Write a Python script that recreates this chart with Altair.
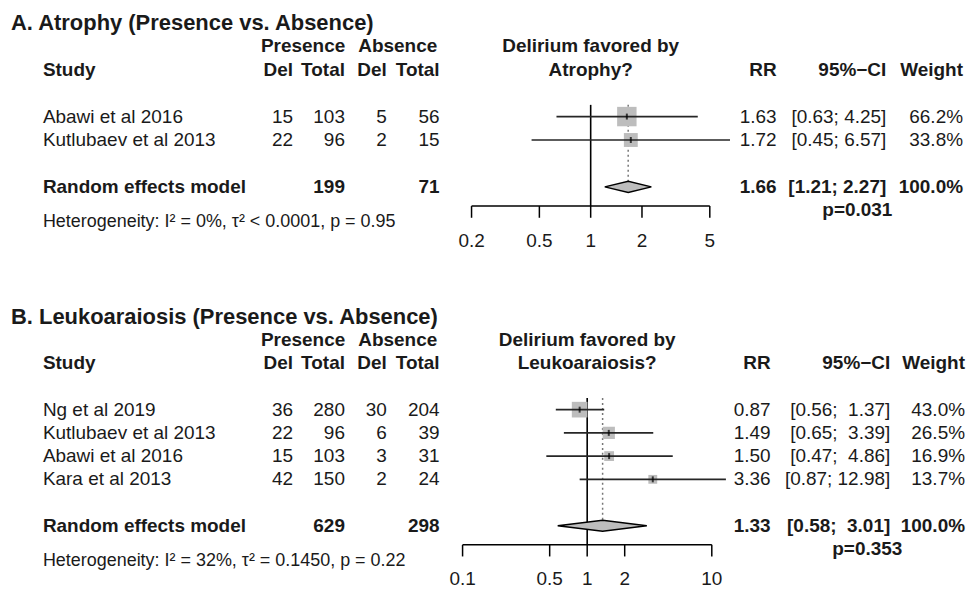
import altair as alt
import pandas as pd

FONT = "Liberation Sans"
TXT = "#1a1a1a"
GREY = "#bdbdbd"

# ---------------- Panel A: Atrophy ----------------
a_title = "A. Atrophy (Presence vs. Absence)"
a_favored = "Atrophy?"
a_study = ["Abawi et al 2016", "Kutlubaev et al 2013"]
a_del_pres = [15, 22]
a_tot_pres = [103, 96]
a_del_abs = [5, 2]
a_tot_abs = [56, 15]
a_rr = [1.63, 1.72]
a_lo = [0.63, 0.45]
a_hi = [4.25, 6.57]
a_weight = [66.2, 33.8]
a_re = [1.66, 1.21, 2.27]          # pooled RR, lower, upper
a_re_tot = [199, 71]               # presence total, absence total
a_p = "p=0.031"
a_het = "Heterogeneity: I² = 0%, τ² < 0.0001, p = 0.95"
a_ticks = [0.2, 0.5, 1, 2, 5]
a_tick_labels = ["0.2", "0.5", "1", "2", "5"]

# ---------------- Panel B: Leukoaraiosis ----------------
b_title = "B. Leukoaraiosis (Presence vs. Absence)"
b_favored = "Leukoaraiosis?"
b_study = ["Ng et al 2019", "Kutlubaev et al 2013", "Abawi et al 2016", "Kara et al 2013"]
b_del_pres = [36, 22, 15, 42]
b_tot_pres = [280, 96, 103, 150]
b_del_abs = [30, 6, 3, 2]
b_tot_abs = [204, 39, 31, 24]
b_rr = [0.87, 1.49, 1.50, 3.36]
b_lo = [0.56, 0.65, 0.47, 0.87]
b_hi = [1.37, 3.39, 4.86, 12.98]
b_weight = [43.0, 26.5, 16.9, 13.7]
b_re = [1.33, 0.58, 3.01]
b_re_tot = [629, 298]
b_p = "p=0.353"
b_het = "Heterogeneity: I² = 32%, τ² = 0.1450, p = 0.22"
b_ticks = [0.1, 0.5, 1, 2, 10]
b_tick_labels = ["0.1", "0.5", "1", "2", "10"]

null_value = 1.0

NBSP = "\u00a0"


def fmt_ci(lo, hi):
    los = [f"{v:.2f}" for v in lo]
    his = [f"{v:.2f}" for v in hi]
    wl = max(len(s) for s in los)
    wh = max(len(s) for s in his)
    out = []
    for l, h in zip(los, his):
        l2 = NBSP * (wl - len(l)) + l
        h2 = NBSP * (wh - len(h)) + h
        out.append(f"[{l2}; {h2}]")
    return out


def panel(P, L):
    k = len(P["study"])
    rows = list(range(1, k + 1))
    re_row = k + 2
    axis_row = k + 2.82
    ys = alt.Scale(domain=[0, 1], range=[L["row1"] - L["rh"], L["row1"]], zero=False, nice=False)
    xs = alt.Scale(type="log", domain=[P["ticks"][0], P["ticks"][-1]], range=L["xr"], nice=False)

    def Y(f):
        return alt.Y(f, scale=ys, axis=None)

    def X(f):
        return alt.X(f, scale=xs, axis=None)

    def text(rws, texts, x, align, bold=False, size=19):
        df = pd.DataFrame({"row": rws, "t": texts})
        return alt.Chart(df).mark_text(
            align=align, baseline="middle", font=FONT, fontSize=size,
            fontWeight="bold" if bold else "normal", color=TXT,
        ).encode(x=alt.value(x), y=Y("row:Q"), text="t:N")

    layers = []
    # titles and headers
    layers.append(text([-3], [P["title"]], L["title_x"], "left", True, 22))
    layers.append(text([-2], ["Presence"], L["pres_c"], "center", True))
    layers.append(text([-2], ["Absence"], L["abs_c"], "center", True))
    layers.append(text([-1], ["Study"], L["study_x"], "left", True))
    layers.append(text([-1], ["Del"], L["dp"], "right", True))
    layers.append(text([-1], ["Total"], L["tp"], "right", True))
    layers.append(text([-1], ["Del"], L["da"], "right", True))
    layers.append(text([-1], ["Total"], L["ta"], "right", True))
    layers.append(text([-1], ["RR"], L["rr"], "right", True))
    layers.append(text([-1], ["95%\u2212CI"], L["ci"], "right", True))
    layers.append(text([-1], ["Weight"], L["w"], "right", True))

    # forest header centred on the plotting region
    gm = (P["ticks"][0] * P["ticks"][-1]) ** 0.5
    hdr = pd.DataFrame({"v": [gm, gm], "row": [-2, -1], "t": ["Delirium favored by", P["favored"]]})
    layers.append(alt.Chart(hdr).mark_text(
        align="center", baseline="middle", font=FONT, fontSize=19, fontWeight="bold", color=TXT
    ).encode(x=X("v:Q"), y=Y("row:Q"), text="t:N"))

    # CI strings formatted together so the columns line up
    ci_all = fmt_ci(P["lo"] + [P["re"][1]], P["hi"] + [P["re"][2]])

    # study table
    layers.append(text(rows, P["study"], L["study_x"], "left"))
    layers.append(text(rows, [str(v) for v in P["dp"]], L["dp"], "right"))
    layers.append(text(rows, [str(v) for v in P["tp"]], L["tp"], "right"))
    layers.append(text(rows, [str(v) for v in P["da"]], L["da"], "right"))
    layers.append(text(rows, [str(v) for v in P["ta"]], L["ta"], "right"))
    layers.append(text(rows, [f"{v:.2f}" for v in P["rr"]], L["rr"], "right"))
    layers.append(text(rows, ci_all[:k], L["ci"], "right"))
    layers.append(text(rows, [f"{v:.1f}%" for v in P["w"]], L["w"], "right"))

    # random effects row
    layers.append(text([re_row], ["Random effects model"], L["study_x"], "left", True))
    layers.append(text([re_row], [str(P["re_tot"][0])], L["tp"], "right", True))
    layers.append(text([re_row], [str(P["re_tot"][1])], L["ta"], "right", True))
    layers.append(text([re_row], [f"{P['re'][0]:.2f}"], L["rr"], "right", True))
    layers.append(text([re_row], ci_all[k:], L["ci"], "right", True))
    layers.append(text([re_row], ["100.0%"], L["w"], "right", True))
    layers.append(text([k + 3], [P["p"]], L["p_c"], "center", True))
    layers.append(text([k + 3.5], [P["het"]], L["study_x"], "left", False, 18))

    # forest plot
    nl = pd.DataFrame({"v": [null_value], "r0": [0.5], "r1": [axis_row]})
    layers.append(alt.Chart(nl).mark_rule(color="black", strokeWidth=1.6).encode(
        x=X("v:Q"), y=Y("r0:Q"), y2="r1:Q"))
    dl = pd.DataFrame({"v": [P["re"][0]], "r0": [0.5], "r1": [re_row]})
    layers.append(alt.Chart(dl).mark_rule(color="#777777", strokeWidth=1.5, strokeDash=[2, 3]).encode(
        x=X("v:Q"), y=Y("r0:Q"), y2="r1:Q"))

    st = pd.DataFrame({"rr": P["rr"], "lo": P["lo"], "hi": P["hi"], "w": P["w"], "row": rows})
    layers.append(alt.Chart(st).mark_square(color=GREY, opacity=1).encode(
        x=X("rr:Q"), y=Y("row:Q"),
        size=alt.Size("w:Q", scale=alt.Scale(domain=[0, max(P["w"])], range=[0, 380]), legend=None)))
    layers.append(alt.Chart(st).mark_rule(color="#262626", strokeWidth=1.7).encode(
        x=X("lo:Q"), x2="hi:Q", y=Y("row:Q")))
    layers.append(alt.Chart(st).mark_tick(orient="vertical", size=6, thickness=2, color="black").encode(
        x=X("rr:Q"), y=Y("row:Q")))

    h = 0.24
    dm = pd.DataFrame({
        "x": [P["re"][1], P["re"][0], P["re"][2]],
        "y": [re_row, re_row - h, re_row],
        "y2": [re_row, re_row + h, re_row],
    })
    layers.append(alt.Chart(dm).mark_area(orient="vertical", fill=GREY, fillOpacity=1, opacity=1,
                                          stroke="black", strokeWidth=1.5).encode(
        x=X("x:Q"), y=Y("y:Q"), y2="y2:Q"))

    # axis
    ax = pd.DataFrame({"a": [P["ticks"][0]], "b": [P["ticks"][-1]], "row": [axis_row]})
    layers.append(alt.Chart(ax).mark_rule(color="black", strokeWidth=1.5).encode(
        x=X("a:Q"), x2="b:Q", y=Y("row:Q")))
    tk = pd.DataFrame({"v": P["ticks"], "r0": [axis_row] * len(P["ticks"]),
                       "r1": [axis_row + 0.5] * len(P["ticks"]),
                       "lab": P["tick_labels"], "lr": [k + 4.3] * len(P["ticks"])})
    layers.append(alt.Chart(tk).mark_rule(color="black", strokeWidth=1.5).encode(
        x=X("v:Q"), y=Y("r0:Q"), y2="r1:Q"))
    layers.append(alt.Chart(tk).mark_text(align="center", baseline="middle", font=FONT,
                                          fontSize=19, color=TXT).encode(
        x=X("v:Q"), y=Y("lr:Q"), text="lab:N"))

    return alt.layer(*layers).properties(width=958, height=L["height"])


PA = dict(title=a_title, favored=a_favored, study=a_study, dp=a_del_pres, tp=a_tot_pres,
          da=a_del_abs, ta=a_tot_abs, rr=a_rr, lo=a_lo, hi=a_hi, w=a_weight, re=a_re,
          re_tot=a_re_tot, p=a_p, het=a_het, ticks=a_ticks, tick_labels=a_tick_labels)
PB = dict(title=b_title, favored=b_favored, study=b_study, dp=b_del_pres, tp=b_tot_pres,
          da=b_del_abs, ta=b_tot_abs, rr=b_rr, lo=b_lo, hi=b_hi, w=b_weight, re=b_re,
          re_tot=b_re_tot, p=b_p, het=b_het, ticks=b_ticks, tick_labels=b_tick_labels)

common = dict(title_x=2, study_x=34, pres_c=295, abs_c=390, dp=285, tp=337, da=379, ta=432)
LA = dict(common, row1=107, rh=23.5, xr=[464, 703], rr=770, ci=880, w=957, p_c=851, height=272)
LB = dict(common, row1=127, rh=23.3, xr=[455, 705], rr=764, ci=884, w=959, p_c=861, height=305)

chart = alt.vconcat(panel(PA, LA), panel(PB, LB), spacing=0, padding=0).configure_view(
    stroke="transparent")

chart.save("out.html", embed_options={"renderer": "svg", "actions": False})
